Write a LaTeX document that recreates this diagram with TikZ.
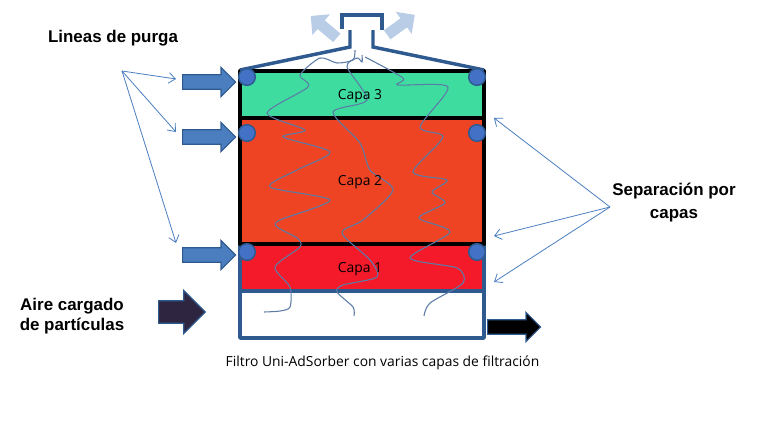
\documentclass[tikz,border=0pt]{standalone}
\usepackage{fontspec}
\usepackage{xcolor}
\usepackage{tikz}
\usetikzlibrary{arrows.meta,shapes.arrows}
\setmainfont{Liberation Sans}
\newfontfamily\capafont{Open Sans}
\definecolor{purgablue}{HTML}{4A7EBF}
\definecolor{edgeblue}{HTML}{2F5A8F}
\definecolor{ventblue}{HTML}{B9CDE6}
\definecolor{waveblue}{HTML}{5C7BA6}
\definecolor{aireviolet}{HTML}{2E2640}
\definecolor{capathree}{HTML}{3FDC9F}
\definecolor{capatwo}{HTML}{EE4423}
\definecolor{capaone}{HTML}{F51A2A}
\tikzset{
  purgaarrow/.style={shape=single arrow,anchor=tail,draw=edgeblue,fill=purgablue,line width=0.9pt,inner xsep=0pt,inner ysep=5pt,
    minimum height=39.75pt,minimum width=21pt,single arrow head extend=5.5pt},
  airearrow/.style={purgaarrow,fill=aireviolet,minimum height=35pt,minimum width=31.5pt,inner ysep=8pt,single arrow head extend=7.75pt},
  ventarrow/.style={shape=single arrow,anchor=tail,fill=ventblue,inner xsep=0pt,inner ysep=4pt,
    minimum height=25.5pt,minimum width=20pt,single arrow head extend=6pt},
  pointer/.style={-{Straight Barb[length=5pt,width=8pt]},purgablue,line width=0.6pt},
  wave/.style={waveblue,line width=0.8pt},
  title/.style={font=\bfseries\fontsize{12.7}{16}\selectfont,align=center},
  capalabel/.style={font=\capafont\fontsize{10.4}{12}\selectfont},
  valve/.style={circle,draw=edgeblue,fill=purgablue!90!blue,line width=1.1pt,minimum size=12.5pt,inner sep=0pt}
}
\begin{document}
\begin{tikzpicture}[x=0.75pt,y=-0.75pt]
    \useasboundingbox (0,0) rectangle (768,425);
    % capas
    \fill[capaone] (240,244) rectangle (484,291);
    \fill[capatwo] (240,118) rectangle (484,244);
    \fill[capathree] (240,71) rectangle (484,118);
    \draw[edgeblue,line width=2.6pt,line join=round] (240,244) -- (240,338) -- (484,338) -- (484,244);
    \draw[edgeblue,line width=2.6pt] (240,291) -- (484,291);
    \draw[black,line width=3pt,line join=round] (240,244) rectangle (484,71);
    \draw[black,line width=3pt] (240,118) -- (484,118);
    % salida superior
    \node[ventarrow,rotate=140] (ventleft) at (337,38) {};
    \node[ventarrow,rotate=36] (ventright) at (387,35) {};
    \draw[edgeblue,line width=2.6pt] (240,70) -- (350,47) -- (350,30);
    \draw[edgeblue,line width=2.6pt] (484,70) -- (373,47) -- (373,30);
    \draw[edgeblue,line width=2.4pt] (342,29) -- (342,15) -- (382,15) -- (382,30);
    % trayectorias
    \draw[wave] plot[smooth,tension=0.45] coordinates {(264,312) (280,311) (290,307) (290,287) (275,267) (300,247) (297,238) (277,227) (280,220) (330,200) (270,187) (297,170) (330,152) (283,137) (305,130) (267,113) (308,87) (300,75) (320,58) (337,63) (353,60) (355,50)};
    \draw[wave] plot[smooth,tension=0.45] coordinates {(354,316) (353,307) (337,292) (343,285) (377,277) (370,260) (342,233) (363,220) (393,190) (370,170) (360,143) (333,112) (367,100) (347,67) (357,58) (362,62) (362,55)};
    \draw[wave] plot[smooth,tension=0.45] coordinates {(424,316) (430,303) (463,283) (457,268) (410,258) (450,232) (419,218) (445,203) (432,192) (447,180) (413,172) (443,137) (420,127) (448,87) (398,85) (403,78) (365,57)};
    % valvulas
    \foreach \x/\y/\name in {247/77/a,477/77/b,247/133/c,477/133/d,247/252/e,477/252/f}
      \node[valve] (valve\name) at (\x,\y) {};
    % flechas
    \node[purgaarrow] (purgaone) at (182,82) {};
    \node[purgaarrow] (purgatwo) at (182,137) {};
    \node[purgaarrow] (purgathree) at (182,255) {};
    \node[airearrow] (aire) at (158,312) {};
    \node[purgaarrow,fill=black] (salida) at (487,327) {};
    % textos
    \node[title] (lineas) at (113,38) {Lineas de purga};
    \node[title,font=\bfseries\fontsize{12.7}{17.3}\selectfont] (separacion) at (674,203) {Separación por\\capas};
    \node[title,font=\bfseries\fontsize{12.7}{15}\selectfont] (cargado) at (72,316) {Aire cargado\\de partículas};
    \node[capalabel] (capa3) at (360,96) {Capa 3};
    \node[capalabel] (capa2) at (360,182) {Capa 2};
    \node[capalabel] (capa1) at (360,269) {Capa 1};
    \node[font=\capafont\fontsize{10.4}{12}\selectfont] (filtro) at (382.5,363) {Filtro Uni-AdSorber con varias capas de filtración};
    % indicadores
    \coordinate (purgafrom) at (122,71);
    \coordinate (sepfrom) at (610,207);
    \coordinate (purgaendone) at (176,79);
    \coordinate (purgaendtwo) at (176,132);
    \coordinate (purgaendthree) at (176,243);
    \coordinate (sependone) at (494,118);
    \coordinate (sependtwo) at (494,236);
    \coordinate (sependthree) at (494,282);
    \foreach \e in {purgaendone,purgaendtwo,purgaendthree}
      \draw[pointer] (purgafrom) -- (\e);
    \foreach \e in {sependone,sependtwo,sependthree}
      \draw[pointer] (sepfrom) -- (\e);
\end{tikzpicture}
\end{document}
